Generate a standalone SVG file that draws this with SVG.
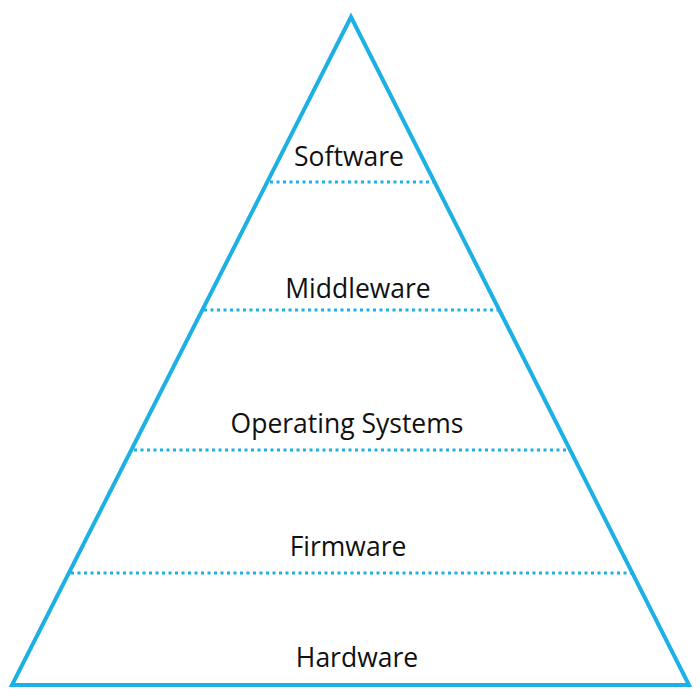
<svg xmlns="http://www.w3.org/2000/svg" width="700" height="700" viewBox="0 0 700 700">
<style>
.tri{fill:none;stroke:#1cb0e4;stroke-width:4;stroke-linejoin:miter}
.div{stroke:#1cb0e4;stroke-width:3;stroke-dasharray:3 3.5;fill:none}
text{font-family:"Open Sans","Liberation Sans",sans-serif;font-size:26.5px;fill:#111;text-anchor:middle}
</style>
<rect width="700" height="700" fill="#fff"/>
<g id="pyramid"><polygon class="tri" points="351,17 12,685 689,685"/></g>
<g id="connectors">
<line class="div" x1="270" y1="182" x2="433" y2="182"/>
<line class="div" x1="204" y1="310" x2="498" y2="310"/>
<line class="div" x1="134" y1="450" x2="569" y2="450"/>
<line class="div" x1="71" y1="573" x2="631" y2="573"/>
</g>
<g id="software"><text x="349" y="166">Software</text></g>
<g id="middleware"><text x="358" y="298">Middleware</text></g>
<g id="os"><text x="347" y="433">Operating Systems</text></g>
<g id="firmware"><text x="348" y="556">Firmware</text></g>
<g id="hardware"><text x="357" y="667">Hardware</text></g>
</svg>
